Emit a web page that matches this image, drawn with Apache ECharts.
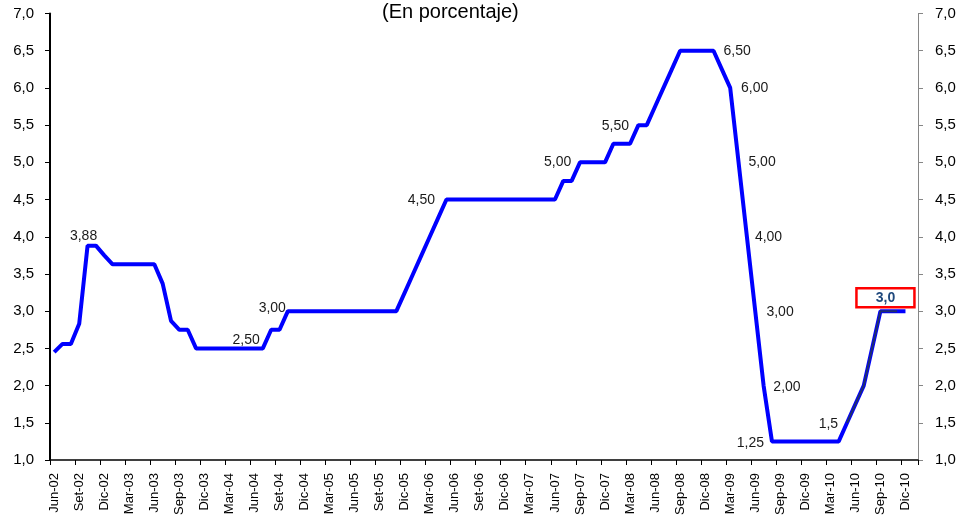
<!DOCTYPE html>
<html>
<head>
<meta charset="utf-8">
<script src="https://cdn.jsdelivr.net/npm/echarts@6/dist/echarts.min.js"></script>
<style>
html,body{margin:0;padding:0;background:#fff;}
#chart{width:961px;height:518px;}
</style>
</head>
<body>
<div id="chart"></div>
<script>
// ---------- DATA ----------
const categories = [
  'Jun-02','Jul-02','Ago-02','Set-02','Oct-02','Nov-02','Dic-02',
  'Ene-03','Feb-03','Mar-03','Abr-03','May-03','Jun-03','Jul-03','Ago-03','Sep-03','Oct-03','Nov-03','Dic-03',
  'Ene-04','Feb-04','Mar-04','Abr-04','May-04','Jun-04','Jul-04','Ago-04','Set-04','Oct-04','Nov-04','Dic-04',
  'Ene-05','Feb-05','Mar-05','Abr-05','May-05','Jun-05','Jul-05','Ago-05','Set-05','Oct-05','Nov-05','Dic-05',
  'Ene-06','Feb-06','Mar-06','Abr-06','May-06','Jun-06','Jul-06','Ago-06','Set-06','Oct-06','Nov-06','Dic-06',
  'Ene-07','Feb-07','Mar-07','Abr-07','May-07','Jun-07','Jul-07','Ago-07','Sep-07','Oct-07','Nov-07','Dic-07',
  'Ene-08','Feb-08','Mar-08','Abr-08','May-08','Jun-08','Jul-08','Ago-08','Sep-08','Oct-08','Nov-08','Dic-08',
  'Ene-09','Feb-09','Mar-09','Abr-09','May-09','Jun-09','Jul-09','Ago-09','Sep-09','Oct-09','Nov-09','Dic-09',
  'Ene-10','Feb-10','Mar-10','Abr-10','May-10','Jun-10','Jul-10','Ago-10','Sep-10','Oct-10','Nov-10','Dic-10',
  'Ene-11'
];

const rates = [
  2.45, 2.56, 2.56, 2.83, 3.88, 3.88, 3.75,
  3.63, 3.63, 3.63, 3.63, 3.63, 3.63, 3.37, 2.87, 2.75, 2.75, 2.50, 2.50,
  2.50, 2.50, 2.50, 2.50, 2.50, 2.50, 2.50, 2.75, 2.75, 3.00, 3.00, 3.00,
  3.00, 3.00, 3.00, 3.00, 3.00, 3.00, 3.00, 3.00, 3.00, 3.00, 3.00, 3.25,
  3.50, 3.75, 4.00, 4.25, 4.50, 4.50, 4.50, 4.50, 4.50, 4.50, 4.50, 4.50,
  4.50, 4.50, 4.50, 4.50, 4.50, 4.50, 4.75, 4.75, 5.00, 5.00, 5.00, 5.00,
  5.25, 5.25, 5.25, 5.50, 5.50, 5.75, 6.00, 6.25, 6.50, 6.50, 6.50, 6.50,
  6.50, 6.25, 6.00, 5.00, 4.00, 3.00, 2.00, 1.25, 1.25, 1.25, 1.25, 1.25,
  1.25, 1.25, 1.25, 1.25, 1.50, 1.75, 2.00, 2.50, 3.00, 3.00, 3.00, 3.00,
  null
];

// darker overlay segment on the latest part of the line
const overlayFrom = 'May-10';
const overlayTo = 'Nov-10';

// point labels: [category, text]
const pointLabels = [
  ['Oct-02', '3,88'], ['May-04', '2,50'], ['Oct-04', '3,00'], ['May-06', '4,50'],
  ['Sep-07', '5,00'], ['Abr-08', '5,50'], ['Ene-09', '6,50'], ['Mar-09', '6,00'],
  ['Abr-09', '5,00'], ['May-09', '4,00'], ['Jun-09', '3,00'], ['Jul-09', '2,00'],
  ['Ago-09', '1,25'], ['May-10', '1,5']
];
const highlightLabel = ['Sep-10', '3,0'];

const yMin = 1, yMax = 7, yStep = 0.5;
const titleText = '(En porcentaje)';

// ---------- STYLE / LAYOUT ----------
const FONT = 'Liberation Sans, Arial, sans-serif';
const labelOffsets = {
  'Oct-02': [-4, -10], 'May-04': [0, -8], 'Oct-04': [-15.6, -3.4], 'May-06': [-25, 1],
  'Sep-07': [-22.4, 0], 'Abr-08': [-23, 1], 'Ene-09': [23.6, 0.6], 'Mar-09': [24.5, 0],
  'Abr-09': [23.5, 0], 'May-09': [21.6, 0.4], 'Jun-09': [24.8, 0.6], 'Jul-09': [23.4, 1.3],
  'Ago-09': [-21.5, 1.7], 'May-10': [-18.7, 1]
};
const highlightOffset = [5, -13.4];

const labelMap = {};
pointLabels.forEach(p => { labelMap[p[0]] = p[1]; });

const mainData = rates.map((v, i) => {
  const c = categories[i];
  if (labelMap[c] !== undefined) {
    return {
      value: v,
      label: {
        show: true, position: 'inside', formatter: labelMap[c],
        offset: labelOffsets[c], fontSize: 14, color: '#1a1a1a', fontFamily: FONT,
        align: 'center', verticalAlign: 'middle'
      }
    };
  }
  if (c === highlightLabel[0]) {
    return {
      value: v,
      label: {
        show: true, position: 'inside', formatter: highlightLabel[1],
        offset: highlightOffset, fontSize: 14, fontWeight: 'bold', color: '#1F497D',
        fontFamily: FONT, align: 'center', verticalAlign: 'middle',
        borderColor: '#FF0000', borderWidth: 2.5, width: 58, height: 17, lineHeight: 17,
        padding: [1, 0, 1, 0]
      }
    };
  }
  return v;
});

const iFrom = categories.indexOf(overlayFrom), iTo = categories.indexOf(overlayTo);
const overlayData = rates.map((v, i) => (i >= iFrom && i <= iTo) ? v : null);

const fmtY = v => v.toFixed(1).replace('.', ',');

const chart = echarts.init(document.getElementById('chart'), null, {renderer: 'canvas'});
chart.setOption({
  animation: false,
  backgroundColor: '#ffffff',
  title: {
    text: titleText, left: 377, top: -3,
    textStyle: {fontSize: 20, fontWeight: 'normal', color: '#000', fontFamily: FONT}
  },
  grid: {left: 50, right: 43, top: 13.5, bottom: 58, containLabel: false},
  xAxis: {
    type: 'category', data: categories, boundaryGap: true,
    axisLine: {show: true, lineStyle: {color: '#000', width: 1.5}},
    axisTick: {show: true, interval: 2, length: 5, lineStyle: {color: '#000', width: 1}},
    axisLabel: {interval: 2, rotate: 90, fontSize: 13, color: '#000', fontFamily: FONT, margin: 13},
    splitLine: {show: false}
  },
  yAxis: [
    {
      type: 'value', min: yMin, max: yMax, interval: yStep, position: 'left',
      axisLine: {show: true, lineStyle: {color: '#000', width: 2}},
      axisTick: {show: true, length: 5, lineStyle: {color: '#000', width: 1}},
      axisLabel: {formatter: fmtY, fontSize: 15, color: '#000', fontFamily: FONT, margin: 16},
      splitLine: {show: false}
    },
    {
      type: 'value', min: yMin, max: yMax, interval: yStep, position: 'right',
      axisLine: {show: true, lineStyle: {color: '#868686', width: 1}},
      axisTick: {show: true, length: 5, lineStyle: {color: '#868686', width: 1}},
      axisLabel: {formatter: fmtY, fontSize: 15, color: '#000', fontFamily: FONT, margin: 17},
      splitLine: {show: false}
    }
  ],
  series: [
    {
      type: 'line', data: mainData, yAxisIndex: 0,
      symbol: 'circle', symbolSize: 0, showSymbol: true, showAllSymbol: true,
      lineStyle: {color: '#0000FF', width: 4}, itemStyle: {color: '#0000FF'},
      z: 3
    },
    {
      type: 'line', data: overlayData, yAxisIndex: 0,
      symbol: 'none', lineStyle: {color: '#1F2F6E', width: 2}, z: 4, silent: true
    }
  ]
});
</script>
</body>
</html>
